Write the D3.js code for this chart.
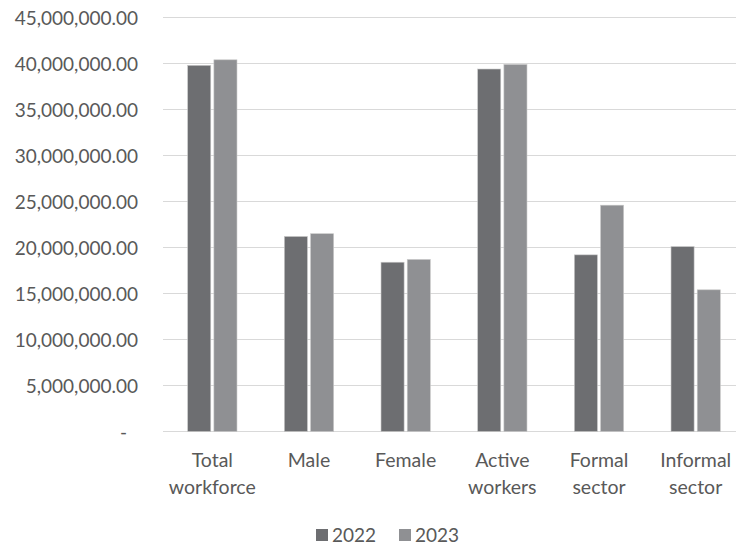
<!DOCTYPE html>
<html><head><meta charset="utf-8">
<script src="https://cdn.jsdelivr.net/npm/d3@7"></script>
<style>body{margin:0;background:#fff}svg{display:block}text{font-family:Lato,"Open Sans",sans-serif;fill:#595959}</style>
</head><body><svg id="c" width="736" height="549"></svg>
<script>
const categories = ["Total workforce","Male","Female","Active workers","Formal sector","Informal sector"];
const categoryLines = [["Total","workforce"],["Male"],["Female"],["Active","workers"],["Formal","sector"],["Informal","sector"]];
const seriesNames = ["2022","2023"];
const values2022 = [39800000,21200000,18400000,39400000,19200000,20100000];
const values2023 = [40400000,21500000,18700000,39900000,24600000,15400000];
const yTicks = [0,5000000,10000000,15000000,20000000,25000000,30000000,35000000,40000000,45000000];
const colors = ["#6d6e71","#8f9093"];

const svg = d3.select("#c");
const x0 = d3.scaleBand().domain(categories).range([164,744]).paddingInner(0.49).paddingOuter(0.245);
const x1 = d3.scaleBand().domain(seriesNames).range([0,x0.bandwidth()]).paddingInner(0.12);
const y = d3.scaleLinear().domain([0,45000000]).range([431.5,17.5]);

const fmt = d3.format(",.2f");
const yAxis = d3.axisLeft(y).tickValues(yTicks).tickSize(0).tickPadding(0).tickFormat(d=> d===0 ? "-" : fmt(d));
const gy = svg.append("g").attr("transform","translate(138,0)").call(yAxis);
gy.select(".domain").remove();
gy.selectAll("text").attr("font-size",19).attr("dy","0.35em").style("fill","#595959")
  .attr("dx", d=> d===0 ? -11 : 0);

svg.append("g").selectAll("line").data(yTicks).join("line")
  .attr("x1",163).attr("x2",736).attr("y1",d=>y(d)).attr("y2",d=>y(d))
  .attr("stroke","#d9d9d9").attr("stroke-width",1.2);

const data = categories.map((c,i)=>({c, v:[values2022[i],values2023[i]]}));
const g = svg.append("g");
g.selectAll("g").data(data).join("g").attr("transform",d=>`translate(${x0(d.c)},0)`)
  .selectAll("rect").data(d=>d.v.map((v,j)=>({k:seriesNames[j],v,j}))).join("rect")
  .attr("x",d=>x1(d.k)).attr("width",x1.bandwidth())
  .attr("y",d=>y(d.v)).attr("height",d=>y(0)-y(d.v))
  .attr("fill",d=>colors[d.j]).attr("stroke","#c8c8c8").attr("stroke-width",0.6);

const xl = svg.append("g");
categories.forEach((c,i)=>{
  const cx = x0(c)+x0.bandwidth()/2;
  const t = xl.append("text").attr("text-anchor","middle").attr("font-size",19.5);
  categoryLines[i].forEach((ln,k)=>{
    t.append("tspan").attr("x",cx).attr("y",467+k*26.5).text(ln);
  });
});

const leg = svg.append("g");
const legX = [316,399];
seriesNames.forEach((s,i)=>{
  leg.append("rect").attr("x",legX[i]).attr("y",529).attr("width",12).attr("height",12).attr("fill",colors[i]);
  leg.append("text").attr("x",legX[i]+16).attr("y",542).attr("font-size",19).text(s);
});
</script></body></html>
